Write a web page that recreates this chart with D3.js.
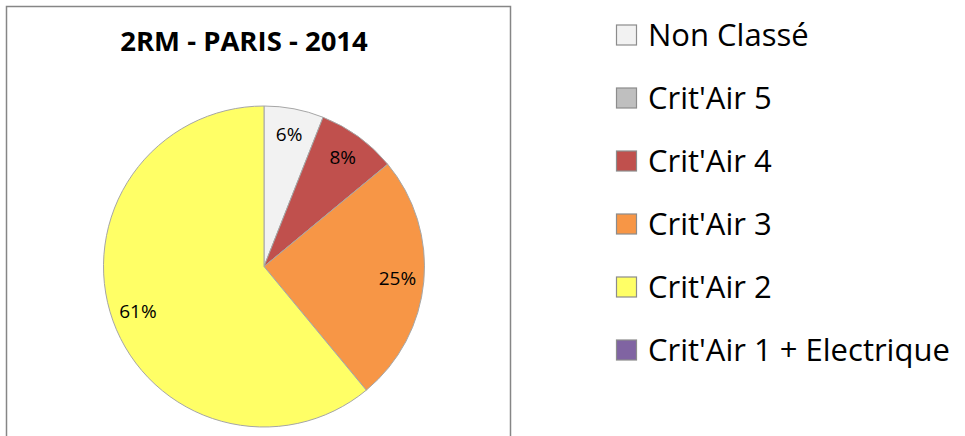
<!DOCTYPE html>
<html><head><meta charset="utf-8">
<script src="https://cdn.jsdelivr.net/npm/d3@7"></script>
<style>body{margin:0;background:#fff;} svg{display:block;}</style>
</head><body>
<svg id="c" width="965" height="436"></svg>
<script>
const title = "2RM - PARIS - 2014";
const categories = ["Non Classé", "Crit'Air 5", "Crit'Air 4", "Crit'Air 3", "Crit'Air 2", "Crit'Air 1 + Electrique"];
const values = [6, 0, 8, 25, 61, 0];
const colors = ["#F2F2F2", "#BFBFBF", "#C0504D", "#F79646", "#FFFF66", "#8064A2"];

const svg = d3.select("#c");
const font = "'Open Sans', sans-serif";

// chart frame
svg.append("rect").attr("x", 6.5).attr("y", 6.5).attr("width", 504).attr("height", 440)
  .attr("fill", "#fff").attr("stroke", "#868686").attr("stroke-width", 1.5);

svg.append("text").attr("x", 244).attr("y", 51).attr("text-anchor", "middle")
  .attr("font-family", font).attr("font-weight", "bold").attr("font-size", 27.5)
  .attr("fill", "#000").text(title);

const cx = 264, cy = 266.5, r = 160.5;
const data = categories.map((c, i) => ({cat: c, value: values[i], color: colors[i]}));
const pie = d3.pie().value(d => d.value).sort(null);
const arcs = pie(data);
const arc = d3.arc().innerRadius(0).outerRadius(r);
const labelArc = d3.arc().innerRadius(134).outerRadius(134);

const g = svg.append("g").attr("transform", `translate(${cx},${cy})`);
g.selectAll("path").data(arcs.filter(a => a.data.value > 0)).join("path")
  .attr("d", arc).attr("fill", d => d.data.color)
  .attr("stroke", "#a6a6a6").attr("stroke-width", 1);

g.selectAll("text.lbl").data(arcs.filter(a => a.data.value > 0)).join("text")
  .attr("class", "lbl")
  .attr("transform", d => `translate(${labelArc.centroid(d)})`)
  .attr("text-anchor", "middle").attr("dy", "0.3em")
  .attr("font-family", font).attr("font-size", 19).attr("fill", "#000")
  .text(d => d.data.value + "%");

// legend
const leg = svg.append("g").attr("transform", "translate(616,35)");
const rows = leg.selectAll("g").data(data).join("g")
  .attr("transform", (d, i) => `translate(0,${i * 63})`);
rows.append("rect").attr("x", 0.5).attr("y", -10).attr("width", 20).attr("height", 20)
  .attr("fill", d => d.color).attr("stroke", "#8c8c8c").attr("stroke-width", 1.2);
rows.append("text").attr("x", 32).attr("y", 10.5)
  .attr("font-family", font).attr("font-size", 31).attr("fill", "#000")
  .text(d => d.cat);
</script>
</body></html>
